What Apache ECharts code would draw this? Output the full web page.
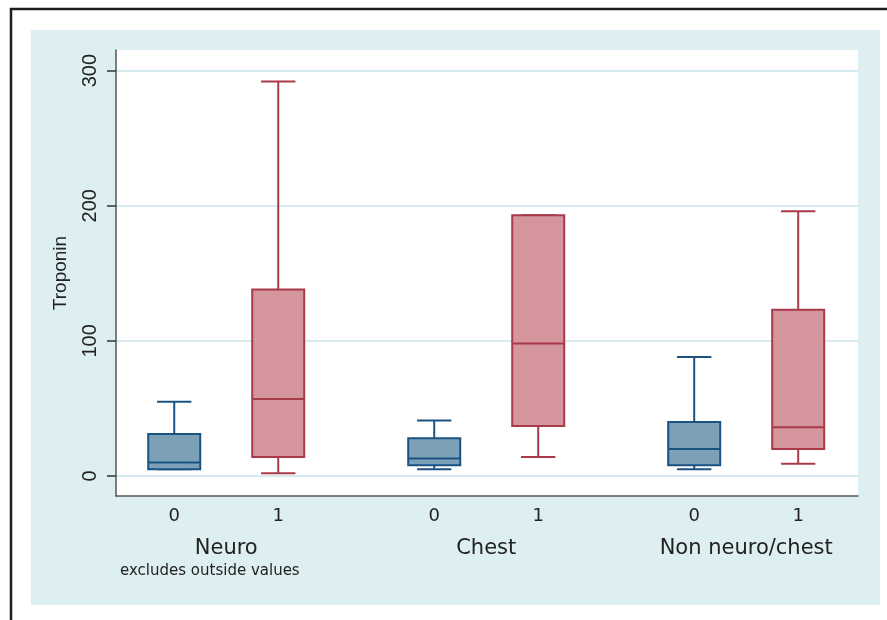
<!DOCTYPE html>
<html>
<head>
<meta charset="utf-8">
<script src="https://cdn.jsdelivr.net/npm/echarts@6/dist/echarts.min.js"></script>
<style>
  html, body { margin: 0; padding: 0; background: #fff; }
  #main { width: 887px; height: 620px; }
</style>
</head>
<body>
<div id="main"></div>
<script>
// groups and outcome levels
var groups = ['Neuro', 'Chest', 'Non neuro/chest'];
var outcomes = ['0', '1'];
var yTicks = [0, 100, 200, 300];

// box statistics per group: [lower whisker, Q1, median, Q3, upper whisker]
var box0 = [
  [5, 5, 10, 31, 55],
  [5, 8, 13, 28, 41],
  [5, 8, 20, 40, 88]
];
var box1 = [
  [2, 14, 57, 138, 292],
  [14, 37, 98, 193, 193],
  [9, 20, 36, 123, 196]
];

// layout: slot position of each group on the x scale (Stata over() spacing)
var groupPos = [2.12, 7.12, 12.12];
var halfGap = 1;
var boxHalf = 0.5;
var capHalf = 0.33;

var chart = echarts.init(document.getElementById('main'), null, { renderer: 'canvas' });

var slotPos = [];
var slotLabel = [];
groupPos.forEach(function (g) {
  slotPos.push(g - halfGap); slotLabel.push(outcomes[0]);
  slotPos.push(g + halfGap); slotLabel.push(outcomes[1]);
});

function findLabel(v, posArr, labArr) {
  for (var i = 0; i < posArr.length; i++) {
    if (Math.abs(posArr[i] - v) < 1e-6) return labArr[i];
  }
  return '';
}

// one box: whiskers, caps, box, median
function makeRender(fill, stroke) {
  return function (params, api) {
    var x = api.value(0);
    var lo = api.coord([x, api.value(1)]);
    var q1 = api.coord([x, api.value(2)]);
    var md = api.coord([x, api.value(3)]);
    var q3 = api.coord([x, api.value(4)]);
    var hi = api.coord([x, api.value(5)]);
    var left = api.coord([x - boxHalf, 0])[0];
    var right = api.coord([x + boxHalf, 0])[0];
    var cl = api.coord([x - capHalf, 0])[0];
    var cr = api.coord([x + capHalf, 0])[0];
    var cx = lo[0];
    var ls = { stroke: stroke, lineWidth: 2 };
    return {
      type: 'group',
      children: [
        { type: 'line', shape: { x1: cx, y1: q3[1], x2: cx, y2: hi[1] }, style: ls },
        { type: 'line', shape: { x1: cx, y1: q1[1], x2: cx, y2: lo[1] }, style: ls },
        { type: 'line', shape: { x1: cl, y1: hi[1], x2: cr, y2: hi[1] }, style: ls },
        { type: 'line', shape: { x1: cl, y1: lo[1], x2: cr, y2: lo[1] }, style: ls },
        { type: 'rect', shape: { x: left, y: q3[1], width: right - left, height: q1[1] - q3[1] },
          style: { fill: fill, stroke: stroke, lineWidth: 2 } },
        { type: 'line', shape: { x1: left, y1: md[1], x2: right, y2: md[1] }, style: ls }
      ]
    };
  };
}

function buildData(stats, offset) {
  return stats.map(function (s, i) {
    return [groupPos[i] + offset].concat(s);
  });
}

var font = "'Liberation Sans', Arial, sans-serif";
var wideFont = "'DejaVu Sans', sans-serif";

var option = {
  backgroundColor: '#ffffff',
  animation: false,
  graphic: [
    { type: 'rect', z: -10, shape: { x: 11, y: 9, width: 900, height: 700 },
      style: { fill: 'none', stroke: '#1e1e1e', lineWidth: 2.5 } },
    { type: 'rect', z: -9, shape: { x: 31, y: 30, width: 849, height: 575 },
      style: { fill: '#deeff2' } },
    { type: 'text', left: 120, top: 564,
      style: { text: 'excludes outside values', fontSize: 15, fontFamily: wideFont, fill: '#222' } }
  ],
  grid: {
    left: 116, right: 29, top: 50, bottom: 124,
    show: true, backgroundColor: '#ffffff', borderWidth: 0
  },
  xAxis: [
    {
      type: 'value', min: 0, max: 14.27, position: 'bottom',
      axisLine: { show: true, onZero: false, lineStyle: { color: '#555', width: 1.5 } },
      axisTick: { show: false },
      splitLine: { show: false },
      axisLabel: {
        customValues: slotPos, margin: 11, fontSize: 18, fontFamily: wideFont, color: '#222',
        formatter: function (v) { return findLabel(v, slotPos, slotLabel); }
      }
    },
    {
      type: 'value', min: 0, max: 14.27, position: 'bottom',
      axisLine: { show: false, onZero: false }, axisTick: { show: false }, splitLine: { show: false },
      axisLabel: {
        customValues: groupPos, margin: 42, fontSize: 21, fontFamily: wideFont, color: '#222',
        formatter: function (v) { return findLabel(v, groupPos, groups); }
      }
    }
  ],
  yAxis: {
    type: 'value', min: -14.8, max: 315.3,
    name: 'Troponin', nameLocation: 'middle', nameGap: 46, nameRotate: 90,
    nameTextStyle: { fontSize: 19, fontFamily: font, color: '#222' },
    axisLine: { show: true, onZero: false, lineStyle: { color: '#555', width: 1.5 } },
    axisTick: { show: true, customValues: yTicks, length: 9, lineStyle: { color: '#333', width: 1.5 } },
    axisLabel: {
      customValues: yTicks, rotate: 90, margin: 16, fontSize: 20, fontFamily: font, color: '#222'
    },
    splitLine: { show: true, lineStyle: { color: '#d6ebef', width: 2 } }
  },
  series: [
    {
      type: 'custom', name: outcomes[0], xAxisIndex: 0,
      renderItem: makeRender('#7ca0b8', '#1a5382'),
      encode: { x: 0, y: [1, 2, 3, 4, 5] },
      data: buildData(box0, -halfGap)
    },
    {
      type: 'custom', name: outcomes[1], xAxisIndex: 0,
      renderItem: makeRender('#d4959c', '#a83a4a'),
      encode: { x: 0, y: [1, 2, 3, 4, 5] },
      data: buildData(box1, halfGap)
    }
  ]
};

chart.setOption(option);
</script>
</body>
</html>
